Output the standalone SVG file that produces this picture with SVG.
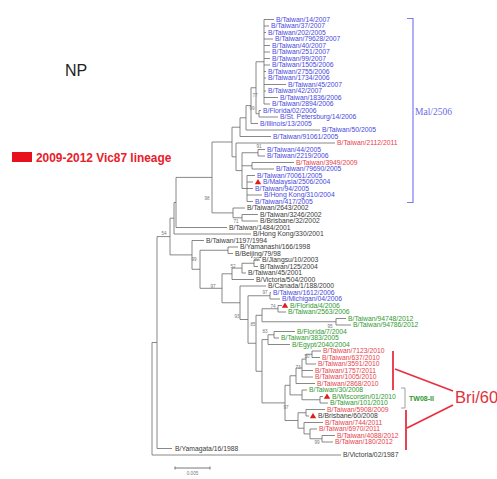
<svg xmlns="http://www.w3.org/2000/svg" width="497" height="479" viewBox="0 0 497 479">
<style>
.t{font-family:"Liberation Sans",Arial,sans-serif;font-size:6.8px}
.bl{fill:#4848de}.rd{fill:#e8424c}.gr{fill:#2f9a2f}.bk{fill:#3a3a3a}
.bs{font-family:"Liberation Sans",Arial,sans-serif;font-size:4.6px;fill:#777;text-anchor:middle}
.tri{fill:#e01c1c}
.tree{fill:none;stroke:#6a6a6a;stroke-width:0.8}
</style>
<rect width="497" height="479" fill="#fff"/>
<g id="title"><text x="65" y="76" font-family="Liberation Sans,Arial,sans-serif" font-size="16" fill="#222">NP</text></g>
<g id="legend"><rect x="12" y="152" width="20" height="10" fill="#e8101c"/><text x="36" y="162.3" font-family="Liberation Sans,Arial,sans-serif" font-size="11.9" font-weight="bold" fill="#e8202a">2009-2012 Vic87 lineage</text></g>
<g id="connectors">
<path class="tree" d="M264 19.5V104M264 19.5H274M264 26H269M264 32.5H266M264 39H273M264 45.5H270M264 52H270M264 58.5H270M264 65H270M264 71.5H266M264 78H266M264 84.5H286M264 91H266M264 97.5H278M264 104H270
M259 110.5V117M259 110.5H261M259 117H278
M256 61.75V113.75M256 61.75H264M256 113.75H259
M251 87.75V123.5M251 87.75H256M251 123.5H258
M246 105.6V130M246 105.6H251M246 130H320
M240 117.8V136.5M240 117.8H246M240 136.5H271
M258 149.5V156M258 149.5H265M258 156H265
M252 162.5V169M252 162.5H294M252 169H274
M247 175.5V201.5M247 175.5H255M247 182H253M247 188.5H253M247 195H262M247 201.5H253
M242 152.75V188.5M242 152.75H258M242 165.75H252M242 188.5H247
M236 143V170.6M236 143H335M236 170.6H242
M232 127.2V156.8M232 127.2H240M232 156.8H236
M242 214.5V221M242 214.5H258M242 221H258
M233 208V217.75M233 208H245M233 217.75H242
M212 142V212.9M212 142H232M212 212.9H233
M176 177.4V227.5M176 177.4H212M176 227.5H227
M174 202.5V234M174 202.5H176M174 234H251
M228 247V253.5M228 247H238M228 253.5H233
M254 260V266.5M254 260H260M254 266.5H258
M242 263.25V273M242 263.25H254M242 273H246
M232 268.1V279.5M232 268.1H242M232 279.5H254
M270 292.5V299M270 292.5H271M270 299H280
M278 305.5V312M278 305.5H282M278 312H286
M336 318.5V325M336 318.5H346M336 325H351
M262 308.75V321.75M262 308.75H278M262 321.75H336
M274 331.5V338M274 331.5H295M274 338H279
M268 334.75V344.5M268 334.75H274M268 344.5H290
M312 351V357.5M312 351H321M312 357.5H320
M306 354.25V364M306 354.25H312M306 364H316
M302 359.1V377M302 359.1H306M302 370.5H313M302 377H313
M296 368V383.5M296 368H302M296 383.5H315
M320 396.5V403M320 396.5H323M320 403H328
M302 390V399.75M302 390H307M302 399.75H320
M290 375.75V394.9M290 375.75H296M290 394.9H302
M306 409.5V416M306 409.5H325M306 416H309
M322 435.5V442M322 435.5H335M322 442H333
M310 429V438.75M310 429H317M310 438.75H322
M304 422.5V433.9M304 422.5H323M304 433.9H310
M298 412.75V428.2M298 412.75H306M298 428.2H304
M285 385.3V420.5M285 385.3H290M285 420.5H298
M262 339.6V402.9M262 339.6H268M262 402.9H285
M256 315.25V371.25M256 315.25H262M256 371.25H262
M248 295.75V343.25M248 295.75H270M248 343.25H256
M240 286V319.5M240 286H266M240 319.5H248
M222 273.8V302.75M222 273.8H232M222 302.75H240
M200 250.25V288.3M200 250.25H228M200 288.3H222
M192 240.5V269.3M192 240.5H204M192 269.3H200
M170 218.2V254.9M170 218.2H174M170 254.9H192
M157 236.6V448.5M157 236.6H170M157 448.5H172
M152 342.5V455M152 342.5H157M152 455H341"/>
</g>
<g id="bootstrap">
<text class="bs" x="255" y="97">77</text><text class="bs" x="252" y="110">99</text><text class="bs" x="259" y="148">91</text>
<text class="bs" x="207" y="200">98</text><text class="bs" x="236" y="223">71</text><text class="bs" x="164" y="235">54</text>
<text class="bs" x="194" y="261">99</text><text class="bs" x="256" y="261">99</text><text class="bs" x="233" y="268">52</text>
<text class="bs" x="213" y="288">97</text><text class="bs" x="265" y="294">97</text><text class="bs" x="273" y="308">74</text>
<text class="bs" x="237" y="318">93</text><text class="bs" x="253" y="326">85</text><text class="bs" x="330" y="328">95</text>
<text class="bs" x="265" y="333">83</text><text class="bs" x="307" y="358">50</text><text class="bs" x="298" y="369">73</text>
<text class="bs" x="286" y="409">97</text><text class="bs" x="317" y="444">99</text>
</g>
<g id="leaves">
<g id="n1"><text class="t bl" x="276" y="21.9">B/Taiwan/14/2007</text></g>
<g id="n2"><text class="t bl" x="271" y="28.4">B/Taiwan/37/2007</text></g>
<g id="n3"><text class="t bl" x="268" y="34.9">B/Taiwan/202/2005</text></g>
<g id="n4"><text class="t bl" x="275" y="41.4">B/Taiwan/79628/2007</text></g>
<g id="n5"><text class="t bl" x="272" y="47.9">B/Taiwan/40/2007</text></g>
<g id="n6"><text class="t bl" x="272" y="54.4">B/Taiwan/251/2007</text></g>
<g id="n7"><text class="t bl" x="272" y="60.9">B/Taiwan/99/2007</text></g>
<g id="n8"><text class="t bl" x="272" y="67.4">B/Taiwan/1505/2006</text></g>
<g id="n9"><text class="t bl" x="268" y="73.9">B/Taiwan/2755/2006</text></g>
<g id="n10"><text class="t bl" x="268" y="80.4">B/Taiwan/1734/2006</text></g>
<g id="n11"><text class="t bl" x="288" y="86.9">B/Taiwan/45/2007</text></g>
<g id="n12"><text class="t bl" x="268" y="93.4">B/Taiwan/42/2007</text></g>
<g id="n13"><text class="t bl" x="280" y="99.9">B/Taiwan/1836/2006</text></g>
<g id="n14"><text class="t bl" x="272" y="106.4">B/Taiwan/2894/2006</text></g>
<g id="n15"><text class="t bl" x="263" y="112.9">B/Florida/02/2006</text></g>
<g id="n16"><text class="t bl" x="280" y="119.4">B/St. Petersburg/14/2006</text></g>
<g id="n17"><text class="t bl" x="260" y="125.9">B/Illinois/13/2005</text></g>
<g id="n18"><text class="t bl" x="322" y="132.4">B/Taiwan/50/2005</text></g>
<g id="n19"><text class="t bl" x="273" y="138.9">B/Taiwan/91061/2005</text></g>
<g id="n20"><text class="t rd" x="337" y="145.4">B/Taiwan/2112/2011</text></g>
<g id="n21"><text class="t bl" x="267" y="151.9">B/Taiwan/44/2005</text></g>
<g id="n22"><text class="t bl" x="267" y="158.4">B/Taiwan/2219/2006</text></g>
<g id="n23"><text class="t rd" x="296" y="164.9">B/Taiwan/3949/2009</text></g>
<g id="n24"><text class="t bl" x="276" y="171.4">B/Taiwan/79690/2005</text></g>
<g id="n25"><text class="t bl" x="257" y="177.9">B/Taiwan/70061/2005</text></g>
<g id="n26"><polygon class="tri" points="258,179 261.2,184.3 254.8,184.3"/><text class="t bl" x="263" y="184.4">B/Malaysia/2506/2004</text></g>
<g id="n27"><text class="t bl" x="255" y="190.9">B/Taiwan/94/2005</text></g>
<g id="n28"><text class="t bl" x="264" y="197.4">B/Hong Kong/310/2004</text></g>
<g id="n29"><text class="t bl" x="255" y="203.9">B/Taiwan/417/2005</text></g>
<g id="n30"><text class="t bk" x="247" y="210.4">B/Taiwan/2643/2002</text></g>
<g id="n31"><text class="t bk" x="260" y="216.9">B/Taiwan/3246/2002</text></g>
<g id="n32"><text class="t bk" x="260" y="223.4">B/Brisbane/32/2002</text></g>
<g id="n33"><text class="t bk" x="229" y="229.9">B/Taiwan/1484/2001</text></g>
<g id="n34"><text class="t bk" x="253" y="236.4">B/Hong Kong/330/2001</text></g>
<g id="n35"><text class="t bk" x="206" y="242.9">B/Taiwan/1197/1994</text></g>
<g id="n36"><text class="t bk" x="240" y="249.4">B/Yamanashi/166/1998</text></g>
<g id="n37"><text class="t bk" x="235" y="255.9">B/Beijing/79/98</text></g>
<g id="n38"><text class="t bk" x="262" y="262.4">B/Jiangsu/10/2003</text></g>
<g id="n39"><text class="t bk" x="260" y="268.9">B/Taiwan/125/2004</text></g>
<g id="n40"><text class="t bk" x="248" y="275.4">B/Taiwan/45/2001</text></g>
<g id="n41"><text class="t bk" x="256" y="281.9">B/Victoria/504/2000</text></g>
<g id="n42"><text class="t bk" x="268" y="288.4">B/Canada/1/188/2000</text></g>
<g id="n43"><text class="t bl" x="273" y="294.9">B/Taiwan/1612/2006</text></g>
<g id="n44"><text class="t bl" x="282" y="301.4">B/Michigan/04/2006</text></g>
<g id="n45"><polygon class="tri" points="285,302.5 288.2,307.8 281.8,307.8"/><text class="t gr" x="290" y="307.9">B/Florida/4/2006</text></g>
<g id="n46"><text class="t gr" x="288" y="314.4">B/Taiwan/2563/2006</text></g>
<g id="n47"><text class="t gr" x="348" y="320.9">B/Taiwan/94748/2012</text></g>
<g id="n48"><text class="t gr" x="353" y="327.4">B/Taiwan/94786/2012</text></g>
<g id="n49"><text class="t gr" x="297" y="333.9">B/Florida/7/2004</text></g>
<g id="n50"><text class="t gr" x="281" y="340.4">B/Taiwan/383/2005</text></g>
<g id="n51"><text class="t gr" x="292" y="346.9">B/Egypt/2040/2004</text></g>
<g id="n52"><text class="t rd" x="323" y="353.4">B/Taiwan/7123/2010</text></g>
<g id="n53"><text class="t rd" x="322" y="359.9">B/Taiwan/637/2010</text></g>
<g id="n54"><text class="t rd" x="318" y="366.4">B/Taiwan/3591/2010</text></g>
<g id="n55"><text class="t rd" x="315" y="372.9">B/Taiwan/1757/2011</text></g>
<g id="n56"><text class="t rd" x="315" y="379.4">B/Taiwan/1005/2010</text></g>
<g id="n57"><text class="t rd" x="317" y="385.9">B/Taiwan/2868/2010</text></g>
<g id="n58"><text class="t gr" x="309" y="392.4">B/Taiwan/30/2008</text></g>
<g id="n59"><polygon class="tri" points="327,393.5 330.2,398.8 323.8,398.8"/><text class="t gr" x="332" y="398.9">B/Wisconsin/01/2010</text></g>
<g id="n60"><text class="t gr" x="330" y="405.4">B/Taiwan/101/2010</text></g>
<g id="n61"><text class="t rd" x="327" y="411.9">B/Taiwan/5908/2009</text></g>
<g id="n62"><polygon class="tri" points="313,413 316.2,418.3 309.8,418.3"/><text class="t bk" x="318" y="418.4">B/Brisbane/60/2008</text></g>
<g id="n63"><text class="t rd" x="325" y="424.9">B/Taiwan/744/2011</text></g>
<g id="n64"><text class="t rd" x="319" y="431.4">B/Taiwan/6970/2011</text></g>
<g id="n65"><text class="t rd" x="337" y="437.9">B/Taiwan/4088/2012</text></g>
<g id="n66"><text class="t rd" x="335" y="444.4">B/Taiwan/180/2012</text></g>
<g id="n67"><text class="t bk" x="175" y="450.9">B/Yamagata/16/1988</text></g>
<g id="n68"><text class="t bk" x="343" y="457.4">B/Victoria/02/1987</text></g>
</g>
<g id="scale"><path d="M175 468H210M175 466.5V469.5M210 466.5V469.5" stroke="#555" stroke-width="0.8" fill="none"/><text class="bs" x="192.5" y="475">0.005</text></g>
<g id="mal-bracket"><path d="M407 18.5H413V202.5H407" fill="none" stroke="#7c7cf0" stroke-width="1.2"/><text x="415" y="115" font-family="Liberation Serif,Times New Roman,serif" font-size="9.5" fill="#6a6ae6">Mal/2506</text></g>
<g id="tw08-bracket"><path d="M401 388H405V408H401" fill="none" stroke="#888" stroke-width="0.8"/><text x="409" y="400.5" font-family="Liberation Sans,Arial,sans-serif" font-size="7" font-weight="bold" fill="#2f9a2f">TW08-II</text></g>
<g id="bri60"><path d="M393 351V390M395 369L453 391M406 410V450M407 428L453 405" fill="none" stroke="#e83040" stroke-width="1.8"/><text x="455" y="403" font-family="Liberation Sans,Arial,sans-serif" font-size="16.5" fill="#e03040">Bri/60</text></g>
</svg>
